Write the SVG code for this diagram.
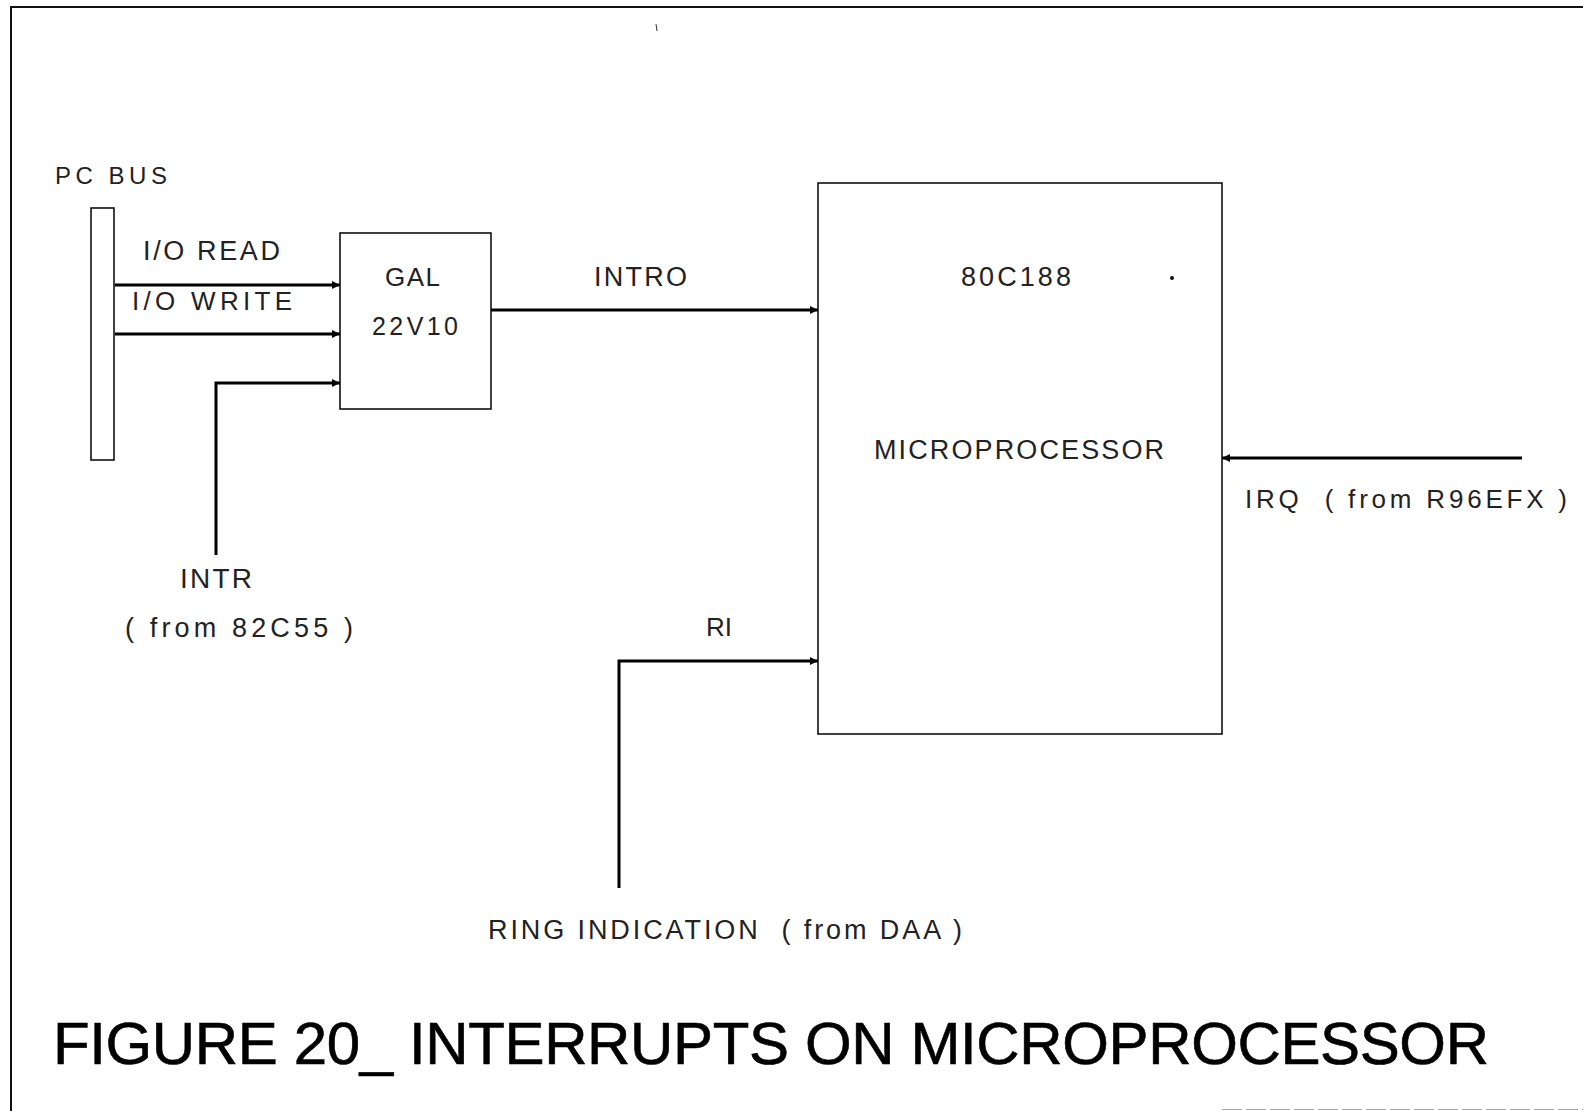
<svg xmlns="http://www.w3.org/2000/svg" width="1583" height="1111" viewBox="0 0 1583 1111">
<style>
.lbl{font-family:"Liberation Sans",Arial,sans-serif;fill:#222;}
.box{fill:none;stroke:#111;stroke-width:1.6;}
.wire{fill:none;stroke:#000;stroke-width:3;}
.frame{fill:none;stroke:#111;stroke-width:1.6;}
</style>
<defs>
<marker id="arr" viewBox="0 0 10 10" refX="10" refY="5" markerWidth="12" markerHeight="8" markerUnits="userSpaceOnUse" orient="auto">
<path d="M0,0 L10,5 L0,10 z" fill="#000"/>
</marker>
</defs>
<rect x="0" y="0" width="1583" height="1111" fill="#fff"/>
<g id="frame">
<path class="frame" d="M11,1111 L11,7 L1583,7" style="stroke-width:2"/>
<line x1="1222" y1="1109.5" x2="1583" y2="1109.5" stroke="#aaa" stroke-width="1" stroke-dasharray="20,4"/>
<line x1="656" y1="24" x2="657" y2="31" stroke="#333" stroke-width="1"/>
</g>
<g id="pcbus">
<rect class="box" x="91" y="208" width="23" height="252"/>
<text class="lbl" x="55" y="184" font-size="24" textLength="112" lengthAdjust="spacing">PC BUS</text>
</g>
<g id="gal">
<rect class="box" x="340" y="233" width="151" height="176"/>
<text class="lbl" x="385" y="286" font-size="26" textLength="55" lengthAdjust="spacing">GAL</text>
<text class="lbl" x="372" y="335" font-size="25" textLength="86" lengthAdjust="spacing">22V10</text>
</g>
<g id="cpu">
<rect class="box" x="818" y="183" width="404" height="551"/>
<text class="lbl" x="961" y="286" font-size="27" textLength="110" lengthAdjust="spacing">80C188</text>
<text class="lbl" x="874" y="459" font-size="27" textLength="290" lengthAdjust="spacing">MICROPROCESSOR</text>
<circle cx="1172" cy="278" r="2" fill="#111"/>
</g>
<g id="connectors">
<line class="wire" x1="115" y1="285" x2="340" y2="285" marker-end="url(#arr)"/>
<line class="wire" x1="115" y1="334" x2="340" y2="334" marker-end="url(#arr)"/>
<polyline class="wire" points="216,555 216,383 340,383" marker-end="url(#arr)"/>
<line class="wire" x1="491" y1="310" x2="818" y2="310" marker-end="url(#arr)"/>
<line class="wire" x1="1522" y1="458" x2="1222" y2="458" marker-end="url(#arr)"/>
<polyline class="wire" points="619,888 619,661 818,661" marker-end="url(#arr)"/>
</g>
<g id="labels">
<text class="lbl" x="143" y="260" font-size="27" textLength="137" lengthAdjust="spacing">I/O READ</text>
<text class="lbl" x="132" y="310" font-size="26" textLength="160" lengthAdjust="spacing">I/O WRITE</text>
<text class="lbl" x="594" y="286" font-size="27" textLength="93" lengthAdjust="spacing">INTRO</text>
<text class="lbl" x="1245" y="508" font-size="26" textLength="322" lengthAdjust="spacing" xml:space="preserve">IRQ  ( from R96EFX )</text>
<text class="lbl" x="180" y="588" font-size="28" textLength="72" lengthAdjust="spacing">INTR</text>
<text class="lbl" x="125" y="637" font-size="27" textLength="228" lengthAdjust="spacing">( from 82C55 )</text>
<text class="lbl" x="706" y="636" font-size="26" textLength="26" lengthAdjust="spacing">RI</text>
<text class="lbl" x="488" y="939" font-size="27" textLength="474" lengthAdjust="spacing" xml:space="preserve">RING INDICATION  ( from DAA )</text>
</g>
<g id="title">
<text x="53" y="1064" font-size="60" textLength="1436" lengthAdjust="spacing" style="font-family:'Liberation Sans Narrow','Liberation Sans',Arial,sans-serif;fill:#000;stroke:#000;stroke-width:0.6">FIGURE 20_ INTERRUPTS ON MICROPROCESSOR</text>
</g>
</svg>
